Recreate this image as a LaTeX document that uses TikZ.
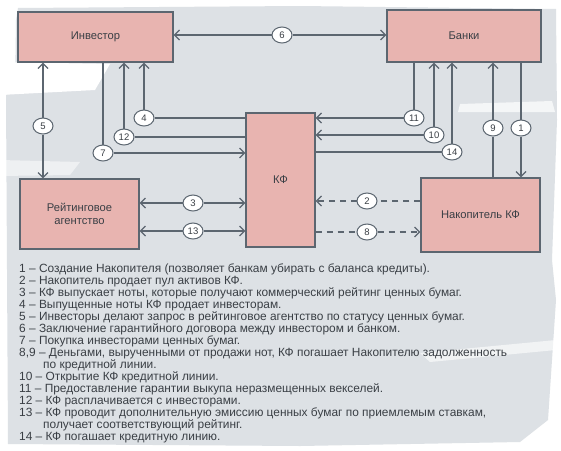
\documentclass[tikz,border=0pt]{standalone}
\usepackage{fontspec}
\setmainfont{Liberation Sans}
\usetikzlibrary{arrows.meta,shapes.geometric}
\definecolor{bg}{HTML}{DDE1E5}
\definecolor{boxfill}{HTML}{E8B4B0}
\definecolor{ln}{HTML}{5C6670}
\definecolor{txt}{HTML}{3A3F45}
\begin{document}
\begin{tikzpicture}[x=1pt,y=-1pt,
  box/.style={draw=ln,line width=1.3pt,fill=boxfill,inner sep=0pt,font=\fontsize{11.2}{13}\selectfont,text=txt,align=center},
  num/.style={ellipse,draw=ln,line width=1pt,fill=white,inner sep=0.5pt,minimum width=20pt,minimum height=16pt,font=\fontsize{9.5}{10}\selectfont,text=txt},
  conn/.style={draw=ln,line width=1.4pt},
  tip/.style={-{Straight Barb[length=5pt,width=10pt,line width=1.2pt]}},
  dsh/.style={dash pattern=on 6pt off 5pt}]
\useasboundingbox (0,0) rectangle (561,450);
\fill[white] (0,0) rectangle (561,450);
% background brush
\fill[bg] (18,8) -- (300,6) -- (556,9) -- (557,120) -- (552,260) -- (556,300) -- (548,420) -- (520,442) -- (300,446) -- (8,444) -- (6,95) -- (15,90) -- (16,20) -- cycle;
\fill[white] (0,62) -- (110,64) -- (95,90) -- (0,95) -- cycle;
\fill[white,opacity=0.7] (460,104) -- (552,101) -- (555,112) -- (458,112) -- cycle;
\fill[white,opacity=0.5] (0,160) -- (80,162) -- (70,175) -- (0,176) -- cycle;
\fill[white,opacity=0.6] (420,353) -- (556,340) -- (556,350) -- (430,362) -- cycle;
% boxes
\node[box,minimum width=155pt,minimum height=50pt] (inv) at (95.5,37) {Инвестор};
\node[box,minimum width=154pt,minimum height=52pt] (bank) at (464,36) {Банки};
\node[box,minimum width=69pt,minimum height=134pt] (kf) at (280.5,180) {КФ};
\node[box,minimum width=119pt,minimum height=70pt] (ra) at (79.5,214) {Рейтинговое\\агентство};
\node[box,minimum width=119pt,minimum height=74pt] (nak) at (480.5,215) {Накопитель КФ};
% number circles
\node[num] (c6) at (282,35) {6};
\node[num] (c5) at (43,126) {5};
\node[num] (c4) at (144,118) {4};
\node[num] (c12) at (124,137) {12};
\node[num] (c7) at (103,153) {7};
\node[num] (c3) at (193,203) {3};
\node[num] (c13) at (193,231) {13};
\node[num] (c11) at (414,118) {11};
\node[num] (c10) at (434,135) {10};
\node[num] (c14) at (452,152) {14};
\node[num] (c9) at (493,128) {9};
\node[num] (c1) at (521,128) {1};
\node[num] (c2) at (367,201) {2};
\node[num] (c8) at (367,232) {8};
% connectors
\draw[conn,tip] (c6) -- (c6 -| inv.east);
\draw[conn,tip] (c6) -- (c6 -| bank.west);
\draw[conn,tip] (c5) -- (c5 |- inv.south);
\draw[conn,tip] (c5) -- (c5 |- ra.north);
\draw[conn,tip] (c4) -- (c4 |- inv.south);
\draw[conn] (c4) -- (c4 -| kf.west);
\draw[conn,tip] (c12) -- (c12 |- inv.south);
\draw[conn] (c12) -- (c12 -| kf.west);
\draw[conn] (c7 |- inv.south) -- (c7);
\draw[conn,tip] (c7) -- (c7 -| kf.west);
\draw[conn,tip] (c3) -- (c3 -| ra.east);
\draw[conn,tip] (c3) -- (c3 -| kf.west);
\draw[conn,tip] (c13) -- (c13 -| ra.east);
\draw[conn,tip] (c13) -- (c13 -| kf.west);
\draw[conn] (c11 |- bank.south) -- (c11);
\draw[conn,tip] (c11) -- (c11 -| kf.east);
\draw[conn,tip] (c10) -- (c10 |- bank.south);
\draw[conn,tip] (c10) -- (c10 -| kf.east);
\draw[conn,tip] (c14) -- (c14 |- bank.south);
\draw[conn] (c14) -- (c14 -| kf.east);
\draw[conn,tip] (c9) -- (c9 |- bank.south);
\draw[conn] (c9) -- (c9 |- nak.north);
\draw[conn] (c1 |- bank.south) -- (c1);
\draw[conn,tip] (c1) -- (c1 |- nak.north);
\draw[conn,dsh] (c2 -| nak.west) -- (c2);
\draw[conn,dsh,tip] (c2) -- (c2 -| kf.east);
\draw[conn,dsh] (c8 -| kf.east) -- (c8);
\draw[conn,dsh,tip] (c8) -- (c8 -| nak.west);
% legend
\node[anchor=north west,align=left,inner sep=0pt,text=txt,font=\fontsize{11.9}{12}\selectfont] (legend) at (19,264) {%
1 -- Создание Накопителя (позволяет банкам убирать с баланса кредиты).\\
2 -- Накопитель продает пул активов КФ.\\
3 -- КФ выпускает ноты, которые получают коммерческий рейтинг ценных бумаг.\\
4 -- Выпущенные ноты КФ продает инвесторам.\\
5 -- Инвесторы делают запрос в рейтинговое агентство по статусу ценных бумаг.\\
6 -- Заключение гарантийного договора между инвестором и банком.\\
7 -- Покупка инвесторами ценных бумаг.\\
8,9 -- Деньгами, вырученными от продажи нот, КФ погашает Накопителю задолженность\\
\hspace*{24pt}по кредитной линии.\\
10 -- Открытие КФ кредитной линии.\\
11 -- Предоставление гарантии выкупа неразмещенных векселей.\\
12 -- КФ расплачивается с инвесторами.\\
13 -- КФ проводит дополнительную эмиссию ценных бумаг по приемлемым ставкам,\\
\hspace*{24pt}получает соответствующий рейтинг.\\
14 -- КФ погашает кредитную линию.};
\end{tikzpicture}
\end{document}
